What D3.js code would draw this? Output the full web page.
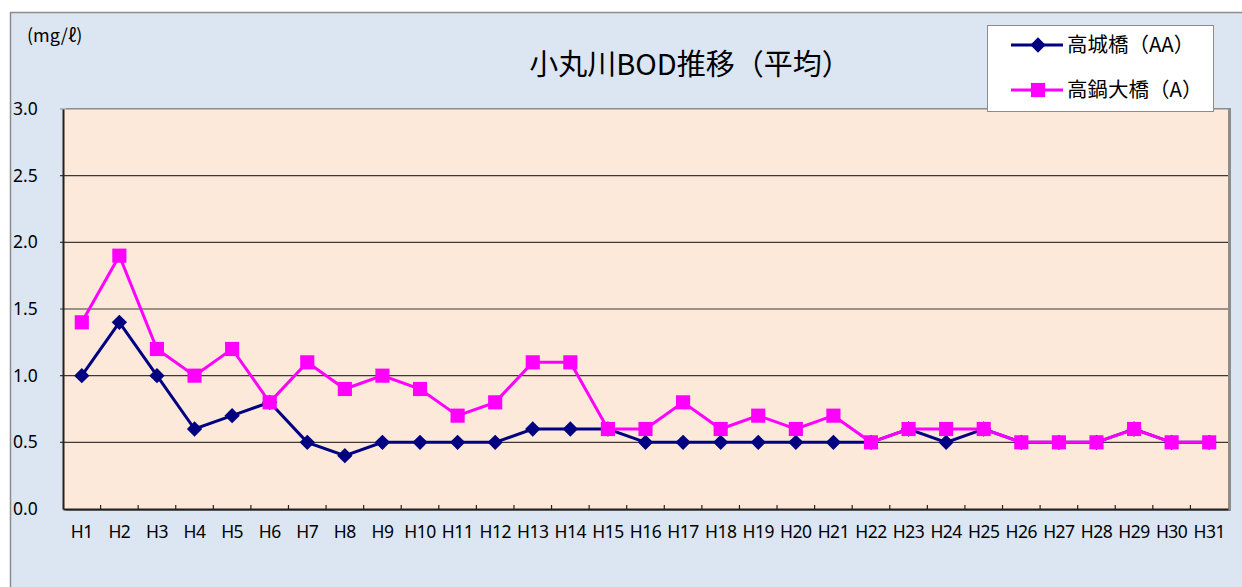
<!DOCTYPE html>
<html>
<head>
<meta charset="utf-8">
<script src="https://cdn.jsdelivr.net/npm/d3@7"></script>
<style>
  body { margin: 0; background: #fff; }
  text { font-family: "Noto Sans CJK JP", "Noto Sans", sans-serif; fill: #000; }
</style>
</head>
<body>
<div id="chart"></div>
<script>
const years = ["H1","H2","H3","H4","H5","H6","H7","H8","H9","H10","H11","H12","H13","H14","H15","H16",
  "H17","H18","H19","H20","H21","H22","H23","H24","H25","H26","H27","H28","H29","H30","H31"]
const takashiro = [1.0,1.4,1.0,0.6,0.7,0.8,0.5,0.4,0.5,0.5,0.5,0.5,0.6,0.6,0.6,0.5,
  0.5,0.5,0.5,0.5,0.5,0.5,0.6,0.5,0.6,0.5,0.5,0.5,0.6,0.5,0.5]
const takanabe = [1.4,1.9,1.2,1.0,1.2,0.8,1.1,0.9,1.0,0.9,0.7,0.8,1.1,1.1,0.6,0.6,
  0.8,0.6,0.7,0.6,0.7,0.5,0.6,0.6,0.6,0.5,0.5,0.5,0.6,0.5,0.5]
const yTicks = [0, 0.5, 1.0, 1.5, 2.0, 2.5, 3.0]
const seriesNames = ["高城橋（AA）", "高鍋大橋（A）"]

const W = 1242, H = 587
const plot = { left: 63, top: 109, right: 1228, bottom: 509 }

const svg = d3.select("#chart").append("svg")
  .attr("width", W).attr("height", H)

// outer chart area
svg.append("rect")
  .attr("x", 10.5).attr("y", 12.5)
  .attr("width", W).attr("height", H)
  .attr("fill", "#dce6f2").attr("stroke", "#8c8c8c").attr("stroke-width", 1.5)

const x = d3.scaleBand().domain(years).range([plot.left, plot.right])
const y = d3.scaleLinear().domain([0, 3]).range([plot.bottom, plot.top])

// plot area shadow + fill
svg.append("rect")
  .attr("x", plot.left + 3).attr("y", plot.top - 1)
  .attr("width", plot.right - plot.left).attr("height", plot.bottom - plot.top + 3)
  .attr("fill", "#8c8c8c")
svg.append("rect")
  .attr("x", plot.left).attr("y", plot.top)
  .attr("width", plot.right - plot.left).attr("height", plot.bottom - plot.top)
  .attr("fill", "#fde9d9")

// gridlines
svg.append("g")
  .selectAll("line")
  .data(yTicks.slice(1))
  .enter().append("line")
    .attr("x1", plot.left - 3).attr("x2", plot.right)
    .attr("y1", d => y(d)).attr("y2", d => y(d))
    .attr("stroke", d => d === 3 ? "#8c8c8c" : "#3a3a3a").attr("stroke-width", 1.2)

// y axis
svg.append("g")
  .attr("transform", "translate(" + plot.left + ",0)")
  .call(d3.axisLeft(y).tickValues(yTicks).tickSize(0).tickFormat(d3.format(".1f")))
  .call(g => g.select(".domain").attr("stroke", "#222").attr("stroke-width", 2))
  .call(g => g.selectAll("text")
    .attr("x", -50).attr("text-anchor", "start")
    .style("font-size", "17.5px").style("font-family", "'Noto Sans', sans-serif"))

// x axis
svg.append("g")
  .attr("transform", "translate(0," + plot.bottom + ")")
  .call(d3.axisBottom(x).tickSize(0).tickSizeOuter(0))
  .call(g => g.select(".domain").attr("stroke", "#222").attr("stroke-width", 2))
  .call(g => g.selectAll("text")
    .attr("y", 17).attr("dy", "0.71em")
    .style("font-size", "17.5px").style("letter-spacing", "-0.5px")
    .style("font-family", "'Noto Sans', sans-serif"))

// inner tick marks between categories
svg.append("g")
  .selectAll("line")
  .data(years.slice(1))
  .enter().append("line")
    .attr("x1", d => x(d)).attr("x2", d => x(d))
    .attr("y1", plot.bottom).attr("y2", plot.bottom - 4)
    .attr("stroke", "#222").attr("stroke-width", 1.2)

const line = d3.line()
  .x((d, i) => x(years[i]) + x.bandwidth() / 2)
  .y(d => y(d))

const diamond = d3.symbol().type(d3.symbolDiamond2).size(150)
const square = d3.symbol().type(d3.symbolSquare).size(200)

// 高城橋
svg.append("path").datum(takashiro)
  .attr("d", line).attr("fill", "none").attr("stroke", "#000080").attr("stroke-width", 3)
svg.append("g").selectAll("path")
  .data(takashiro)
  .enter().append("path")
    .attr("d", diamond)
    .attr("transform", (d, i) => "translate(" + (x(years[i]) + x.bandwidth() / 2) + "," + y(d) + ")")
    .attr("fill", "#000080")

// 高鍋大橋
svg.append("path").datum(takanabe)
  .attr("d", line).attr("fill", "none").attr("stroke", "#ff00ff").attr("stroke-width", 3)
svg.append("g").selectAll("path")
  .data(takanabe)
  .enter().append("path")
    .attr("d", square)
    .attr("transform", (d, i) => "translate(" + (x(years[i]) + x.bandwidth() / 2) + "," + y(d) + ")")
    .attr("fill", "#ff00ff")

// title & unit
svg.append("text")
  .attr("x", 690).attr("y", 75)
  .attr("text-anchor", "middle")
  .style("font-size", "29px")
  .text("小丸川BOD推移（平均）")

svg.append("text")
  .attr("x", 27).attr("y", 42)
  .style("font-size", "18px")
  .text("(mg/ℓ)")

// legend
const legend = svg.append("g").attr("transform", "translate(987,25)")
legend.append("rect")
  .attr("x", 0.5).attr("y", 0.5).attr("width", 226).attr("height", 86)
  .attr("fill", "#fff").attr("stroke", "#8c8c8c")

const legendItems = [
  { name: seriesNames[0], color: "#000080", sym: diamond },
  { name: seriesNames[1], color: "#ff00ff", sym: square }
]
legendItems.forEach((it, i) => {
  const cy = 20 + i * 45
  legend.append("line")
    .attr("x1", 24).attr("x2", 76).attr("y1", cy).attr("y2", cy)
    .attr("stroke", it.color).attr("stroke-width", 3)
  legend.append("path").attr("d", it.sym)
    .attr("transform", "translate(51," + cy + ")").attr("fill", it.color)
  legend.append("text")
    .attr("x", 80).attr("y", cy).attr("dy", "0.36em")
    .style("font-size", "20.5px")
    .text(it.name)
})
</script>
</body>
</html>
